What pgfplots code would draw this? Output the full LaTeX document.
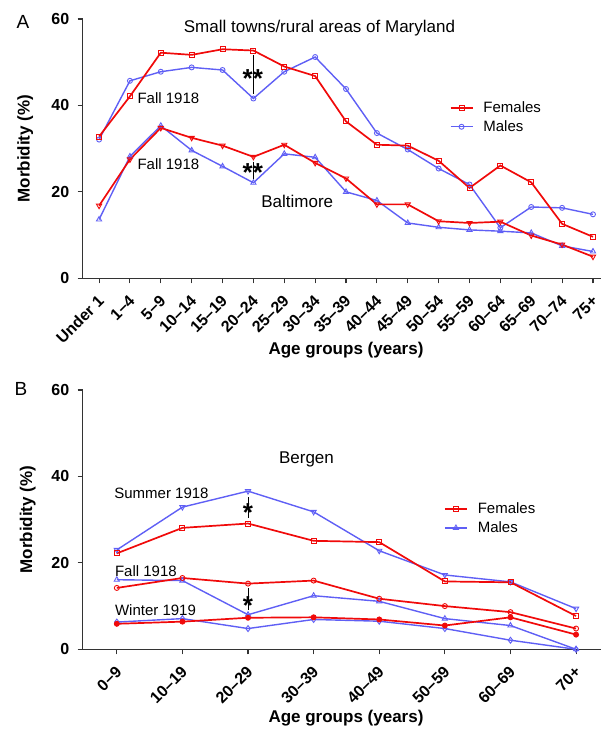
\documentclass[border=0pt]{standalone}
\usepackage{fontspec}
\setmainfont{Liberation Sans}
\usepackage{pgfplots}
\pgfplotsset{compat=1.18}
\definecolor{fred}{RGB}{240,10,10}
\definecolor{mblue}{RGB}{95,95,245}
\pgfplotsset{
  panel/.style={
    scale only axis, width=518.3pt, height=259.3pt,
    axis x line*=bottom, axis y line*=left,
    axis line style={line width=1.3pt, color=black!80, -},
    ymin=0, ymax=60, ytick={0,20,40,60},
    tick align=outside, major tick length=5pt,
    tick style={line width=1.1pt, color=black!80},
    clip=false,
    tick label style={font=\bfseries\fontsize{16}{16}\selectfont},
    /pgf/number format/assume math mode=true,
    yticklabel style={xshift=-5pt},
    xticklabel style={yshift=-15pt, xshift=2pt, rotate=45, anchor=east, inner sep=0pt},
    label style={font=\bfseries\fontsize{17}{17}\selectfont},
    ylabel={Morbidity (\%)},
    xlabel={Age groups (years)},
    legend style={draw=none, fill=none, font=\fontsize{15}{15}\selectfont, inner sep=1pt, row sep=2.5pt, column sep=8pt},
    legend cell align=left,
    legend image code/.code={\draw[mark repeat=2,mark phase=2,##1] plot coordinates {(0pt,0pt) (11pt,0pt) (22pt,0pt)};},
  },
  fem/.style={color=fred, line width=1.7pt},
  mal/.style={color=mblue, line width=1.4pt},
  mk/.style={mark options={solid, line width=0.9pt, #1}},
  mk/.default={},
}
\begin{document}
\begin{tikzpicture}
\useasboundingbox (0,0) rectangle (602pt,730pt);
\node[font=\fontsize{19}{19}\selectfont] at (23pt,708.5pt) {A};
\node[font=\fontsize{19}{19}\selectfont] at (21pt,341.5pt) {B};
% Panel A
\begin{axis}[panel, at={(82.7pt,451.7pt)}, anchor=south west,
  xmin=-0.53, xmax=16.26,
  xtick={0,...,16},
  xticklabels={Under 1,1–4,5–9,10–14,15–19,20–24,25–29,30–34,35–39,40–44,45–49,50–54,55–59,60–64,65–69,70–74,75+},
  ylabel style={at={(axis description cs:-0.111,0.5)}, anchor=center},
  xlabel style={at={(axis description cs:0.508,-0.278)}, anchor=center},
  legend style={at={(axis cs:11.32,41.6)}, anchor=north west},
]
\addlegendimage{fem, mark=square, mark size=2.5pt, mk}
\addlegendimage{mal, mark=o, mark size=2.5pt, mk}
\legend{Females, Males}
\addplot[mal, mark=o, mark size=2.5pt, mk, forget plot] coordinates {
(0,32.1)(1,45.7)(2,47.8)(3,48.8)(4,48.2)(5,41.6)(6,47.8)(7,51.2)(8,43.8)(9,33.6)(10,29.8)(11,25.4)(12,21.7)(13,11.7)(14,16.5)(15,16.3)(16,14.8)};
\addplot[fem, mark=square, mark size=2.5pt, mk, forget plot] coordinates {
(0,32.8)(1,42.1)(2,52.2)(3,51.7)(4,53.0)(5,52.7)(6,49.0)(7,46.8)(8,36.3)(9,30.9)(10,30.7)(11,27.2)(12,20.9)(13,26.1)(14,22.2)(15,12.6)(16,9.6)};
\addplot[mal, mark=triangle, mark size=3pt, mk, forget plot] coordinates {
(0,13.6)(1,28.2)(2,35.3)(3,29.6)(4,25.9)(5,22.1)(6,28.8)(7,28.0)(8,20.0)(9,18.0)(10,12.8)(11,11.8)(12,11.2)(13,10.9)(14,10.5)(15,7.5)(16,6.2)};
\addplot[fem, mark=triangle, mark size=3pt, mk={rotate=180}, forget plot] coordinates {
(0,16.8)(1,27.5)(2,34.8)(3,32.5)(4,30.7)(5,28.1)(6,30.9)(7,26.7)(8,23.1)(9,17.1)(10,17.1)(11,13.2)(12,12.8)(13,13.1)(14,9.9)(15,7.8)(16,5.0)};
\addplot[black, line width=0.8pt, forget plot] coordinates {(5,51.7)(5,42.7)};
\addplot[black, line width=0.8pt, forget plot] coordinates {(5,27.0)(5,23.0)};
\node[font=\fontsize{17}{17}\selectfont] at (axis cs:7.14,58.0) {Small towns/rural areas of Maryland};
\node[font=\fontsize{15}{15}\selectfont, anchor=west, inner sep=0pt] at (axis cs:1.24,41.8) {Fall 1918};
\node[font=\fontsize{15}{15}\selectfont, anchor=west, inner sep=0pt] at (axis cs:1.24,26.4) {Fall 1918};
\node[font=\fontsize{17}{17}\selectfont, anchor=west, inner sep=0pt] at (axis cs:5.25,17.9) {Baltimore};
\node[font=\bfseries\fontsize{26}{26}\selectfont, inner sep=0pt] at (axis cs:4.98,46.3) {**};
\node[font=\bfseries\fontsize{26}{26}\selectfont, inner sep=0pt] at (axis cs:4.98,24.4) {**};
\end{axis}
% Panel B
\begin{axis}[panel, at={(82.7pt,80.7pt)}, anchor=south west,
  xmin=-0.52, xmax=7.38,
  xtick={0,...,7},
  xticklabels={0–9,10–19,20–29,30–39,40–49,50–59,60–69,70+},
  ylabel style={at={(axis description cs:-0.106,0.5)}, anchor=center},
  xlabel style={at={(axis description cs:0.508,-0.265)}, anchor=center},
  legend style={at={(axis cs:4.97,34.6)}, anchor=north west},
]
\addlegendimage{fem, mark=square, mark size=2.5pt, mk}
\addlegendimage{mal, mark=triangle, mark size=3pt, mk}
\legend{Females, Males}
\addplot[mal, mark=triangle, mark size=3pt, mk={rotate=180}, forget plot] coordinates {
(0,23.0)(1,32.9)(2,36.6)(3,31.8)(4,22.8)(5,17.2)(6,15.6)(7,9.4)};
\addplot[fem, mark=square, mark size=2.5pt, mk, forget plot] coordinates {
(0,22.2)(1,28.1)(2,29.1)(3,25.1)(4,24.8)(5,15.7)(6,15.5)(7,7.7)};
\addplot[mal, mark=triangle, mark size=3pt, mk, forget plot] coordinates {
(0,16.1)(1,15.9)(2,8.0)(3,12.4)(4,11.1)(5,7.1)(6,5.5)(7,0.0)};
\addplot[fem, mark=o, mark size=2.5pt, mk, forget plot] coordinates {
(0,14.2)(1,16.5)(2,15.2)(3,15.9)(4,11.7)(5,10.0)(6,8.6)(7,4.8)};
\addplot[mal, mark=diamond, mark size=3pt, mk, forget plot] coordinates {
(0,6.3)(1,7.1)(2,4.8)(3,6.9)(4,6.5)(5,4.8)(6,2.1)(7,0.0)};
\addplot[fem, mark=*, mark size=2.5pt, mk={fill=fred}, forget plot] coordinates {
(0,5.9)(1,6.4)(2,7.3)(3,7.4)(4,6.9)(5,5.5)(6,7.4)(7,3.4)};
\addplot[black, line width=0.8pt, forget plot] coordinates {(2,35.2)(2,30.3)};
\addplot[black, line width=0.8pt, forget plot] coordinates {(2,14.2)(2,9.1)};
\node[font=\fontsize{17}{17}\selectfont, anchor=west, inner sep=0pt] at (axis cs:2.47,43.9) {Bergen};
\node[font=\fontsize{15}{15}\selectfont, anchor=west, inner sep=0pt] at (axis cs:-0.04,36.0) {Summer 1918};
\node[font=\fontsize{15}{15}\selectfont, anchor=west, inner sep=0pt] at (axis cs:-0.03,18.2) {Fall 1918};
\node[font=\fontsize{15}{15}\selectfont, anchor=west, inner sep=0pt] at (axis cs:-0.03,9.1) {Winter 1919};
\node[font=\bfseries\fontsize{26}{26}\selectfont, inner sep=0pt] at (axis cs:2,31.6) {*};
\node[font=\bfseries\fontsize{26}{26}\selectfont, inner sep=0pt] at (axis cs:2,10.2) {*};
\end{axis}
\end{tikzpicture}
\end{document}
